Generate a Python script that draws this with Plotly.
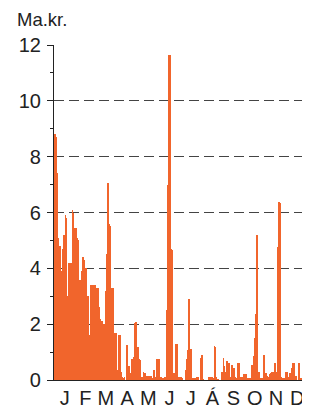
import plotly.graph_objects as go

# Daily values per month (Ma.kr.)
jan = [5.5, 8.8, 8.7, 7.4, 7.4, 5.1, 5.0, 4.8, 4.8, 4.7, 3.9, 3.8, 4.7, 4.7, 5.2, 5.2,
       5.9, 5.8, 3.0, 2.9, 3.0, 4.2, 4.1, 4.2, 1.5, 4.2, 6.1, 6.0, 5.1, 5.0, 5.45]
feb = [5.4, 5.45, 5.1, 5.0, 3.1, 3.0, 3.6, 3.5, 3.9, 3.8, 4.4, 4.4, 4.3, 4.0, 3.9, 4.0,
       3.0, 2.9, 3.0, 1.6, 1.5, 3.4, 3.3, 3.4, 3.1, 3.0, 3.4, 3.4]
mar = [3.3, 3.3, 3.2, 3.3, 3.3, 2.6, 2.5, 2.2, 2.1, 2.1, 2.1, 2.0, 2.0, 1.9, 2.0, 3.2,
       3.1, 4.5, 7.05, 6.9, 5.6, 5.5, 1.4, 1.3, 3.3, 3.3, 1.7, 1.7, 1.7, 1.7, 1.7]
apr = [0.36, 0.35, 0.3, 1.6, 1.6, 0.3, 0.3, 0.1, 0.05, 0.07, 0.05, 0.1, 0.0, 0.0, 1.25,
       1.2, 0.48, 0.5, 0.5, 0.25, 0.25, 0.2, 0.74, 0.7, 0.84, 0.8, 2.05, 2.07, 1.2, 1.2]
may = [1.2, 0.54, 0.75, 0.7, 0.1, 0.05, 0.1, 0.0, 0.28, 0.22, 0.25, 0.2, 0.05, 0.15,
       0.15, 0.12, 0.15, 0.15, 0.12, 0.15, 0.05, 0.0, 0.0, 0.36, 0.3, 0.1, 0.1, 0.75,
       0.75, 0.7, 0.75]
jun = [0.75, 0.1, 0.1, 0.05, 0.05, 0.0, 0.05, 0.0, 0.1, 0.1, 2.5, 2.5, 7.0, 9.56,
       11.65, 11.65, 4.78, 4.7, 4.66, 0.25, 0.25, 0.25, 0.0, 0.0, 1.29, 1.3, 0.1, 0.1,
       0.1, 0.1]
jul = [0.1, 0.1, 0.05, 0.0, 0.0, 0.0, 0.0, 0.0, 0.36, 0.36, 0.74, 1.07, 2.89, 2.9,
       1.1, 1.1, 0.05, 0.05, 0.0, 0.05, 0.0, 0.05, 0.0, 0.05, 0.1, 0.1, 0.0, 0.0, 0.0,
       0.78, 0.78]
aug = [0.9, 0.9, 0.02, 0.0, 0.0, 0.0, 0.0, 0.0, 0.0, 0.0, 0.1, 0.05, 0.12, 0.1, 0.0,
       0.12, 0.08, 0.05, 1.22, 1.2, 0.12, 0.1, 0.0, 0.02, 0.0, 0.0, 0.0, 0.0, 0.0, 0.3,
       0.3]
sep = [0.78, 0.5, 0.27, 0.27, 0.0, 0.69, 0.65, 0.62, 0.62, 0.1, 0.1, 0.08, 0.54, 0.5,
       0.42, 0.42, 0.12, 0.12, 0.0, 0.08, 0.08, 0.62, 0.6, 0.08, 0.08, 0.12, 0.12, 0.1,
       0.12, 0.0]
oct_ = [0.21, 0.2, 0.21, 0.2, 0.05, 0.0, 0.05, 0.0, 0.05, 0.0, 0.0, 0.54, 0.5, 0.86,
        0.86, 1.49, 2.37, 2.3, 5.2, 5.15, 0.3, 0.3, 0.05, 0.0, 0.05, 0.0, 0.05, 0.0,
        0.9, 0.9, 0.24]
nov = [0.24, 0.18, 0.15, 0.12, 0.12, 0.18, 0.2, 0.24, 0.22, 0.3, 0.25, 0.3, 0.28,
       0.62, 0.6, 0.27, 0.27, 4.75, 4.7, 6.39, 6.35, 0.12, 0.1, 0.05, 0.0, 0.05, 0.0,
       0.05, 0.0, 0.27]
dec = [0.27, 0.1, 0.1, 0.05, 0.1, 0.24, 0.24, 0.42, 0.42, 0.62, 0.6, 0.15, 0.15, 0.12,
       0.15, 0.0, 0.0, 0.6, 0.6, 0.05, 0.0, 0.05, 0.0, 1.43, 1.4, 0.27, 0.27, 0.2, 0.2,
       0.2, 0.2]

months = [jan, feb, mar, apr, may, jun, jul, aug, sep, oct_, nov, dec]
month_labels = ["J", "F", "M", "A", "M", "J", "J", "Á", "S", "O", "N", "D"]
y_ticks = [0, 2, 4, 6, 8, 10, 12]
y_minor = [1, 3, 5, 7, 9, 11]

values = [v for m in months for v in m]
days = list(range(len(values)))

# month labels centred on each month, derived from the month lengths
centres = []
start = 0
for m in months:
    centres.append(start + (len(m) - 1) / 2)
    start += len(m)

FONT = "Liberation Sans, Arial, sans-serif"

fig = go.Figure(go.Bar(
    x=days, y=values, width=1.0,
    marker=dict(color="#F1652C", line=dict(width=0)),
    hoverinfo="skip",
))

# page body has an 8px margin, so the figure is sized/positioned to compensate
fig.update_layout(
    width=302, height=401,
    margin=dict(l=46, r=2, t=37, b=29, autoexpand=False),
    paper_bgcolor="white", plot_bgcolor="white",
    bargap=0, showlegend=False,
    font=dict(family=FONT, size=20, color="#222"),
    title=dict(text="Ma.kr.", x=9 / 302, xref="container", xanchor="left",
               y=1 - 12 / 401, yref="container", yanchor="middle",
               font=dict(family=FONT, size=18.5, color="#222")),
)

fig.update_xaxes(
    range=[-0.5, len(values) - 0.5],
    tickmode="array", tickvals=centres, ticktext=month_labels,
    tickangle=0, automargin=False,
    ticks="", showgrid=False, zeroline=False,
    showline=True, linecolor="#222", linewidth=1.2,
    tickfont=dict(family=FONT, size=20, color="#222"),
)

fig.update_yaxes(
    range=[0, 12], automargin=False,
    tickmode="array", tickvals=y_ticks,
    ticks="outside", ticklen=6, tickcolor="#222", tickwidth=1,
    ticklabelstandoff=2,
    minor=dict(tickmode="array", tickvals=y_minor, ticks="outside",
               ticklen=3, tickcolor="#222", showgrid=False),
    showgrid=True, gridcolor="#444", gridwidth=1, griddash="10px,5px",
    zeroline=False,
    showline=True, linecolor="#222", linewidth=1.2, mirror=True,
    tickfont=dict(family=FONT, size=20, color="#222"),
)

fig.write_html("out.html")
